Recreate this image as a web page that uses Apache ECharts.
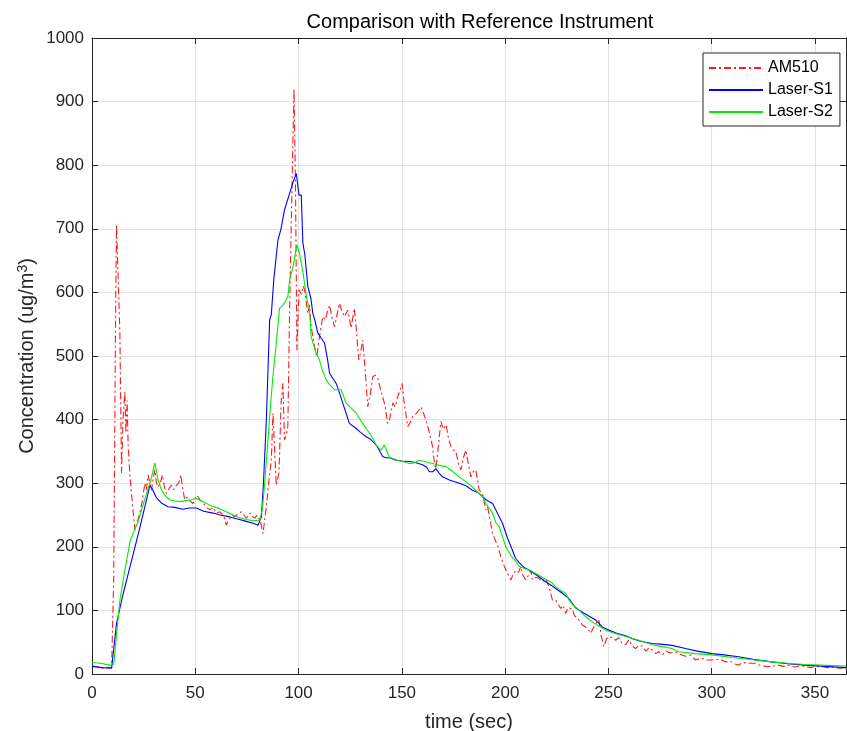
<!DOCTYPE html>
<html>
<head>
<meta charset="utf-8">
<title>Comparison with Reference Instrument</title>
<script src="https://cdn.jsdelivr.net/npm/echarts@6/dist/echarts.min.js"></script>
<style>
  html, body { margin: 0; padding: 0; background: #ffffff; }
  #chart { width: 847px; height: 731px; }
</style>
</head>
<body>
<div id="chart"></div>
<script>
const seriesNames = ['AM510', 'Laser-S1', 'Laser-S2'];
const seriesColors = ['#ff1a1a', '#0000ff', '#00ee00'];

// AM510 reference instrument (sec, ug/m3)
const am510Time = [
  0, 3, 5, 7, 9.5, 10.5, 11.5, 11.9, 12.5, 13.5, 14.3, 15, 15.9, 16.4, 17, 17.5, 18.4, 19.5, 20.8, 22,
  23.2, 24.2, 25.6, 26.3, 27.2, 28, 28.8, 29.5, 30.4, 31.2, 32, 33, 34.1, 35, 36, 37, 38.5, 39.5, 40.9, 42,
  43, 44, 44.9, 46, 47.5, 48.9, 50, 50.9, 52.4, 53.9, 55.5, 57, 58.5, 60.2, 61.8, 63.4, 64.2, 65, 65.8, 66.7,
  68, 69.1, 70.7, 72.3, 73.5, 74.7, 75.7, 76.7, 77.7, 78.7, 80, 81.5, 82.8, 83.5, 84.4, 85.5, 86.8, 87.6, 88.4, 89.2,
  90.5, 91.6, 92.4, 93.2, 94.2, 94.8, 95.7, 96.5, 97.2, 97.8, 98.5, 99.2, 100.2, 101.4, 102.2, 102.9, 104.5, 105.3, 106.1, 107.7,
  108.8, 110.1, 111.7, 112.9, 114, 115, 116.2, 117.4, 118.6, 119.8, 121, 122.2, 123.8, 125.5, 126.2, 127, 128, 129.1, 130, 131,
  132.2, 133.5, 134.7, 135.9, 137, 138.3, 139.5, 140.7, 142, 143.1, 144, 145.6, 146.8, 148, 149, 150.1, 151, 152.8, 154, 155.2,
  157.2, 159.3, 160.5, 161.7, 163.3, 164.9, 165.8, 166.5, 167.7, 168.9, 170, 171.4, 172.6, 173.8, 175, 176.2, 177.4, 178.6, 179.8, 181,
  182.2, 183.4, 184.6, 185.8, 187.4, 189, 190.7, 191.5, 193.9, 194.7, 196.8, 197.9, 199.5, 201.1, 202.8, 204, 205.2, 206.4, 207.6, 208.4,
  210, 211.2, 212.4, 213.2, 214.8, 216.4, 218, 219.6, 221.3, 222.9, 224.5, 225.7, 226.9, 228.1, 229.3, 230.5, 232.5, 233.5, 235.7, 237.3,
  239, 240.2, 241.4, 243.5, 245.4, 246.5, 247.8, 249, 250.2, 251.8, 253.5, 255, 256.5, 258.3, 260, 261.5, 263.1, 264.7, 266.4, 268,
  269.6, 271.2, 272.8, 274.4, 276, 278, 280, 282.5, 284.5, 287.3, 289.7, 292.1, 295, 297.5, 300.2, 301.8, 304, 306.6, 309, 311,
  313, 315, 318, 321, 323, 326, 329, 332, 335, 337, 340, 343, 345, 348, 350, 353, 356, 359, 362, 365
];
const am510Values = [
  13, 11, 9, 10, 10, 150, 600, 706, 640, 535, 316, 400, 444, 379, 430, 360, 310, 270, 226, 240,
  253, 270, 300, 290, 313, 300, 289, 305, 321, 300, 294, 300, 313, 295, 284, 290, 297, 290, 297, 300,
  313, 290, 274, 278, 272, 268, 276, 281, 273, 268, 262, 258, 262, 253, 255, 250, 244, 234, 240, 242,
  250, 247, 252, 255, 250, 245, 249, 253, 248, 245, 250, 240, 221, 240, 263, 300, 336, 410, 352, 297,
  316, 431, 457, 368, 380, 389, 578, 714, 829, 920, 772, 509, 604, 597, 610, 604, 567, 580, 546, 515,
  499, 530, 562, 557, 570, 580, 560, 546, 565, 583, 570, 562, 572, 544, 560, 575, 540, 494, 505, 525,
  480, 420, 440, 467, 470, 465, 450, 436, 420, 394, 400, 426, 420, 436, 445, 457, 430, 389, 395, 405,
  410, 420, 410, 399, 380, 357, 330, 323, 360, 397, 385, 392, 370, 357, 352, 350, 330, 321, 340, 352,
  330, 310, 318, 321, 289, 284, 258, 263, 221, 221, 198, 184, 170, 158, 148, 158, 163, 160, 169, 156,
  148, 155, 163, 148, 152, 150, 145, 150, 137, 116, 116, 110, 103, 108, 95, 104, 102, 92, 85, 77,
  74, 70, 64, 78, 85, 60, 43, 55, 59, 57, 53, 57, 48, 46, 54, 44, 40, 45, 44, 36,
  41, 38, 32, 35, 30, 36, 33, 35, 31, 28, 30, 22, 25, 22, 22, 22, 24, 19, 20, 16,
  14, 18, 17, 17, 14, 12, 11.5, 14, 12, 14, 11, 13, 12, 10, 12, 12, 10, 11, 9, 10
];

// Laser-S1 sensor
const laserS1Time = [
  0, 5, 9.5, 11.9, 15, 18.4, 22, 25, 28, 29, 31.2, 34, 36.8, 40, 44, 47, 50.6, 54, 58.6, 62,
  66.7, 70, 74.7, 78, 80.4, 82, 83, 84.4, 86, 86.8, 88, 90, 91.5, 93.2, 95.7, 97.5, 98.9, 99.5, 100.2, 101.3,
  102.1, 103, 104.5, 106, 106.9, 108, 109.3, 111, 112.6, 114, 115, 116.5, 118.2, 120, 121.4, 123, 124.6, 127.9, 130, 132.7,
  134.5, 136.7, 138, 140.7, 142, 144, 147.2, 150, 153.6, 156, 160, 162, 163.3, 164.9, 166.5, 168, 169.7, 173, 177.8, 181,
  184.2, 187.4, 190.7, 193.9, 195.5, 198.7, 201, 203.5, 205, 206.8, 209, 211.6, 215, 219.6, 223, 227.7, 231, 234.1, 238, 243.8,
  247, 250.2, 254, 258.3, 262, 266, 271.2, 275, 280.8, 287.3, 293, 300.2, 306, 313, 320, 329, 337, 345, 355, 365
];
const laserS1Values = [
  12, 10, 9, 80, 125, 169, 215, 255, 296, 292, 277, 268, 263, 262, 259, 261, 261, 256, 253, 250,
  247, 244, 240, 237, 234, 247, 300, 400, 557, 565, 620, 682, 700, 730, 756, 775, 787, 785, 753, 753,
  677, 660, 609, 590, 567, 555, 536, 528, 520, 495, 473, 465, 457, 440, 426, 410, 394, 386, 380, 373,
  370, 363, 358, 342, 340, 340, 336, 335, 334, 333, 329, 325, 318, 318, 323, 316, 310, 305, 300, 296,
  289, 284, 274, 268, 258, 237, 215, 195, 182, 175, 168, 163, 156, 145, 138, 127, 118, 104, 96, 85,
  74, 69, 64, 60, 55, 51, 48, 47, 45, 40, 36, 32, 30, 27, 23, 19, 16, 14, 12, 10
];

// Laser-S2 sensor
const laserS2Time = [
  0, 4, 8.7, 10.5, 13.5, 16, 18.4, 20, 22.4, 24, 26.4, 28.5, 30.4, 31, 32, 33.7, 35.5, 37.7, 40, 42.5,
  46, 48, 50.6, 53, 55.4, 58, 61.8, 65, 68.3, 71, 74.7, 78, 81.2, 82.5, 83.6, 85, 86, 87.5, 89.2, 90.8,
  92.4, 93.5, 94.8, 95.7, 97.3, 99.2, 100.5, 102.1, 104, 105.3, 106.1, 108.5, 110.1, 111.5, 113.4, 115, 117.4, 119, 120.6, 122,
  123, 125.5, 127.9, 131, 134.3, 136, 137.5, 140, 141.5, 142.4, 144, 145.6, 148, 150.4, 153.6, 156, 158.5, 161, 164.9, 168,
  171.4, 174, 177.8, 181, 184.2, 187, 189, 190.7, 193.9, 195.5, 197.1, 200.3, 203, 205.2, 206.8, 210, 213.2, 214.8, 218, 222.9,
  224.5, 227, 229.3, 230.9, 233, 235.7, 239, 243, 248.6, 253, 258.3, 264.7, 271.2, 276, 280.8, 284, 292, 300.2, 310, 321,
  329, 337, 345, 353, 365
];
const laserS2Values = [
  18, 17, 14, 15, 116, 165, 208, 222, 240, 258, 284, 305, 332, 330, 305, 289, 280, 274, 272, 271,
  273, 274, 276, 272, 268, 264, 260, 255, 250, 246, 243, 241, 242, 260, 300, 360, 405, 465, 520, 575,
  580, 585, 593, 620, 640, 675, 660, 632, 590, 572, 530, 504, 494, 478, 462, 455, 447, 447, 447, 435,
  426, 418, 410, 394, 379, 370, 360, 352, 360, 360, 340, 339, 336, 334, 331, 332, 336, 334, 331, 328,
  326, 320, 310, 302, 294, 285, 279, 268, 253, 238, 232, 200, 185, 177, 169, 165, 161, 158, 152, 143,
  137, 131, 127, 116, 108, 101, 90, 80, 69, 64, 59, 53, 46, 43, 40, 35, 32, 30, 26, 22,
  19, 17, 15, 14, 12.5
];

const xTicks = { min: 0, max: 365, interval: 50 };
const yTicks = { min: 0, max: 1000, interval: 100 };

const fontFamily = '"Liberation Sans", Arial, Helvetica, sans-serif';
const textColor = '#262626';
const gridColor = '#e3e3e3';

function zip(times, values) {
  return times.map((t, i) => [t, values[i]]);
}

const seriesData = [
  zip(am510Time, am510Values),
  zip(laserS1Time, laserS1Values),
  zip(laserS2Time, laserS2Values)
];

function axisBase(position, showLabels, range) {
  return {
    type: 'value',
    position: position,
    min: range.min,
    max: range.max,
    interval: range.interval,
    nameMoveOverlap: false,
    axisLine: { show: true, onZero: false, lineStyle: { color: textColor, width: 1 } },
    axisTick: { show: true, inside: true, length: 6, lineStyle: { color: textColor } },
    axisLabel: {
      show: showLabels,
      color: textColor,
      fontFamily: fontFamily,
      fontSize: 17,
      showMaxLabel: range.max % range.interval === 0,
      margin: position === 'bottom' ? 11 : 8,
      formatter: value => String(value)
    },
    splitLine: { show: showLabels, lineStyle: { color: gridColor, width: 1 } }
  };
}

const bottomAxis = Object.assign(axisBase('bottom', true, xTicks), {
  name: 'time (sec)',
  nameLocation: 'middle',
  nameGap: 38,
  nameTextStyle: { color: textColor, fontFamily: fontFamily, fontSize: 20 }
});
const leftAxis = Object.assign(axisBase('left', true, yTicks), {
  name: 'Concentration (ug/m{sup|3})',
  nameLocation: 'middle',
  nameGap: 54,
  nameRotate: 90,
  nameTextStyle: {
    color: textColor,
    fontFamily: fontFamily,
    fontSize: 20,
    lineHeight: 22,
    rich: {
      sup: {
        color: textColor,
        fontFamily: fontFamily,
        fontSize: 14,
        lineHeight: 22,
        verticalAlign: 'top',
        padding: [0, 0, 10, 0]
      }
    }
  }
});

const chart = echarts.init(document.getElementById('chart'), null, { renderer: 'canvas' });
chart.setOption({
  animation: false,
  backgroundColor: '#ffffff',
  title: {
    text: 'Comparison with Reference Instrument',
    left: 475,
    textAlign: 'center',
    top: 7,
    textStyle: { color: '#000000', fontFamily: fontFamily, fontSize: 20, fontWeight: 'normal' }
  },
  grid: { left: 92, right: 1, top: 38, bottom: 57, containLabel: false, outerBoundsMode: 'none' },
  legend: {
    orient: 'vertical',
    left: 703,
    top: 53,
    padding: [7, 7, 6, 5],
    itemGap: 6,
    itemWidth: 54,
    itemHeight: 14,
    backgroundColor: '#ffffff',
    borderColor: textColor,
    borderWidth: 1,
    borderRadius: 0,
    itemStyle: { opacity: 0 },
    textStyle: { color: '#000000', fontFamily: fontFamily, fontSize: 16, padding: [0, 0, 0, 0] },
    data: seriesNames
  },
  xAxis: [bottomAxis, axisBase('top', false, xTicks)],
  yAxis: [leftAxis, axisBase('right', false, yTicks)],
  series: seriesNames.map((name, i) => ({
    name: name,
    type: 'line',
    xAxisIndex: 0,
    yAxisIndex: 0,
    data: seriesData[i],
    symbol: 'none',
    showSymbol: false,
    sampling: 'none',
    smooth: false,
    silent: true,
    color: seriesColors[i],
    itemStyle: { color: seriesColors[i], opacity: 0 },
    lineStyle: {
      color: seriesColors[i],
      width: 1.1,
      type: i === 0 ? [7, 3, 2, 3] : 'solid'
    },
    z: 2 + i
  }))
});
</script>
</body>
</html>
